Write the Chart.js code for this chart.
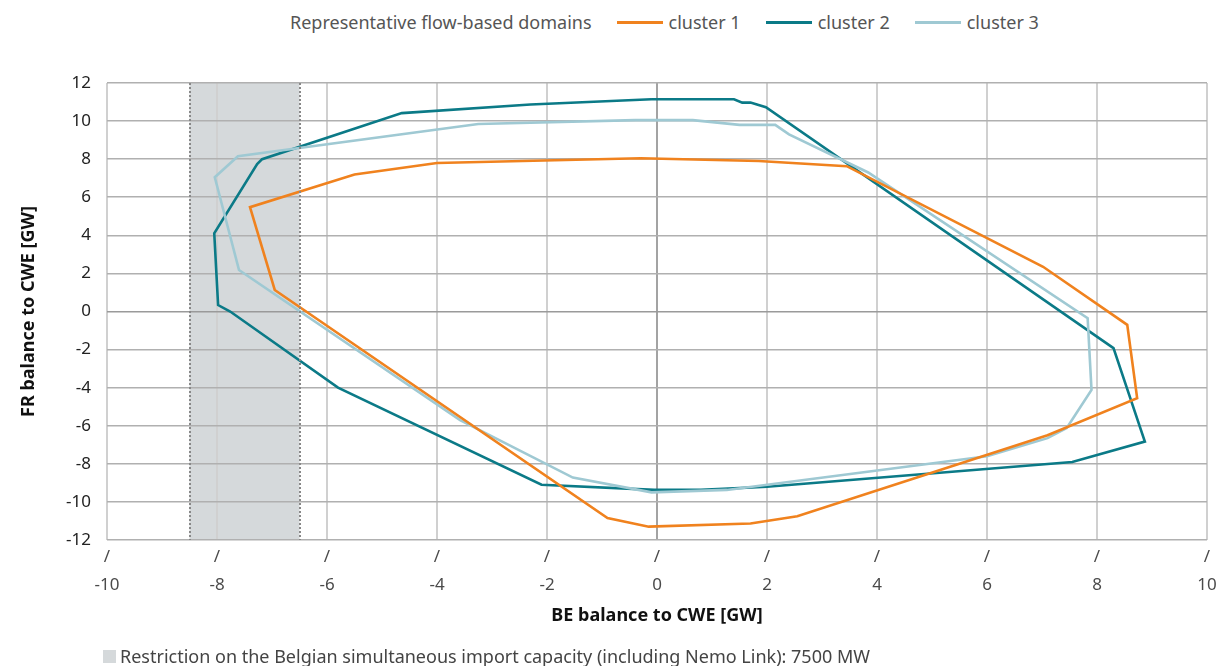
<!DOCTYPE html>
<html>
<head>
<meta charset="utf-8">
<script src="https://cdn.jsdelivr.net/npm/chart.js@4.4.1/dist/chart.umd.min.js"></script>
<style>
  html, body { margin: 0; padding: 0; background: #fff; }
  body { width: 1221px; height: 666px; position: relative; overflow: hidden; font-family: "Noto Sans", sans-serif; }
  #wrap { position: absolute; left: 0; top: 0; width: 1221px; height: 666px; }
  #legend { position: absolute; top: 10px; left: 290px; height: 24px; display: flex; align-items: center; font-size: 18px; color: #555; white-space: nowrap; }
  #legend .sw { display: inline-block; width: 46px; height: 3px; margin: 0 6px 0 25px; }
  #note { position: absolute; left: 103px; top: 644px; font-size: 18px; color: #444; display: flex; align-items: center; white-space: nowrap; }
  #note .box { width: 13px; height: 13px; background: #d5d9db; margin-right: 4px; }
</style>
</head>
<body>
<div id="legend"><span>Representative flow-based domains</span></div>
<div id="wrap"><canvas id="fbChart" width="1221" height="666"></canvas></div>
<div id="note"><span class="box"></span><span>Restriction on the Belgian simultaneous import capacity (including Nemo Link): 7500 MW</span></div>
<script>
// cluster polygons, BE balance (x) / FR balance (y) in GW
const cluster1X = [-0.3, 1.85, 3.45, 7.02, 8.55, 8.73, 7.1, 2.55, 1.7, -0.15, -0.9, -6.95, -7.4, -5.5, -4.0, -0.3];
const cluster1Y = [8.05, 7.9, 7.63, 2.35, -0.7, -4.55, -6.5, -10.75, -11.13, -11.3, -10.85, 1.13, 5.48, 7.2, 7.8, 8.05];

const cluster2X = [-0.1, 1.4, 1.55, 1.7, 1.98, 8.3, 8.87, 7.55, 2.0, 0.8, -0.05, -2.1, -5.8, -7.76, -7.98, -8.05, -7.27, -7.18, -4.64, -2.3, -0.1];
const cluster2Y = [11.15, 11.15, 10.97, 10.97, 10.73, -1.92, -6.83, -7.9, -9.2, -9.37, -9.37, -9.1, -4.0, 0.0, 0.34, 4.1, 7.74, 8.0, 10.42, 10.87, 11.15];

const cluster3X = [-0.4, 0.65, 1.5, 2.15, 2.4, 3.84, 7.83, 7.9, 7.45, 7.1, 6.0, 1.27, -0.1, -1.53, -3.58, -7.6, -8.04, -7.62, -3.25, -0.4];
const cluster3Y = [10.05, 10.05, 9.8, 9.8, 9.3, 7.3, -0.35, -4.12, -6.12, -6.65, -7.6, -9.37, -9.5, -8.72, -5.7, 2.18, 7.05, 8.15, 9.85, 10.05];

const seriesNames = ['cluster 1', 'cluster 2', 'cluster 3'];
const seriesColors = ['#f0821e', '#0b7a87', '#9fc9d3'];

// restricted BE import band
const restrictionX = [-8.5, -6.5];

const xTicks = [-10, -8, -6, -4, -2, 0, 2, 4, 6, 8, 10];
const yTicks = [-12, -10, -8, -6, -4, -2, 0, 2, 4, 6, 8, 10, 12];

const toPoints = (xs, ys) => xs.map((x, i) => ({ x: x, y: ys[i] }));

// legend in html
const legend = document.getElementById('legend');
seriesNames.forEach((name, i) => {
  const sw = document.createElement('span');
  sw.className = 'sw';
  sw.style.background = seriesColors[i];
  legend.appendChild(sw);
  const t = document.createElement('span');
  t.textContent = name;
  legend.appendChild(t);
});

const bandPlugin = {
  id: 'band',
  beforeDraw(chart) {
    const { ctx, chartArea, scales } = chart;
    const x1 = scales.x.getPixelForValue(restrictionX[0]);
    const x2 = scales.x.getPixelForValue(restrictionX[1]);
    ctx.save();
    ctx.fillStyle = '#d5d9db';
    ctx.fillRect(x1, chartArea.top, x2 - x1, chartArea.bottom - chartArea.top);
    ctx.restore();
  },
  afterDatasetsDraw(chart) {
    const { ctx, chartArea, scales } = chart;
    ctx.save();
    ctx.strokeStyle = '#888';
    ctx.lineWidth = 2;
    ctx.setLineDash([2, 2]);
    restrictionX.forEach(v => {
      const px = Math.round(scales.x.getPixelForValue(v));
      ctx.beginPath();
      ctx.moveTo(px, chartArea.top);
      ctx.lineTo(px, chartArea.bottom);
      ctx.stroke();
    });
    ctx.restore();
  }
};

const dsOrder = [1, 3, 2];
const xs = [cluster1X, cluster2X, cluster3X];
const ys = [cluster1Y, cluster2Y, cluster3Y];

const ctx = document.getElementById('fbChart');
const fbChart = new Chart(ctx, {
  type: 'scatter',
  data: {
    datasets: seriesNames.map((name, i) => ({
      label: name,
      data: toPoints(xs[i], ys[i]),
      showLine: true,
      borderColor: seriesColors[i],
      backgroundColor: seriesColors[i],
      borderWidth: 2.6,
      pointRadius: 0,
      tension: 0,
      order: dsOrder[i]
    }))
  },
  options: {
    responsive: false,
    animation: false,
    layout: { padding: { top: 83, right: 14, bottom: 37, left: 0 } },
    plugins: {
      legend: { display: false },
      tooltip: { enabled: false }
    },
    scales: {
      x: {
        type: 'linear',
        min: -10,
        max: 10,
        afterBuildTicks: s => { s.ticks = xTicks.map(v => ({ value: v })); },
        afterFit: s => { s.height = 89; },
        grid: {
          drawTicks: false,
          lineWidth: 2,
          color: c => c.tick && c.tick.value === 0 ? '#a3a3a3' : '#d0d0d0'
        },
        border: { display: false },
        ticks: {
          padding: 4,
          color: '#4a4a4a',
          font: { family: 'Noto Sans', size: 17, lineHeight: 1.6 },
          maxRotation: 0,
          callback: v => ['/', String(v)]
        },
        title: {
          display: true,
          text: 'BE balance to CWE [GW]',
          color: '#111',
          font: { family: 'Noto Sans', size: 18, weight: 'bold' },
          padding: { top: 0, bottom: 2 }
        }
      },
      y: {
        type: 'linear',
        min: -12,
        max: 12,
        afterBuildTicks: s => { s.ticks = yTicks.map(v => ({ value: v })); },
        afterFit: s => { s.width = 107; },
        grid: {
          drawTicks: false,
          lineWidth: 1.6,
          color: c => c.tick && c.tick.value === 0 ? '#9a9a9a' : '#b0b0b0'
        },
        border: { display: false },
        ticks: {
          padding: 16,
          color: '#222',
          font: { family: 'Noto Sans', size: 17 }
        },
        title: {
          display: true,
          text: 'FR balance to CWE [GW]',
          color: '#111',
          font: { family: 'Noto Sans', size: 18, weight: 'bold' },
          padding: { top: 18, bottom: 0 }
        }
      }
    }
  },
  plugins: [bandPlugin]
});
</script>
</body>
</html>
